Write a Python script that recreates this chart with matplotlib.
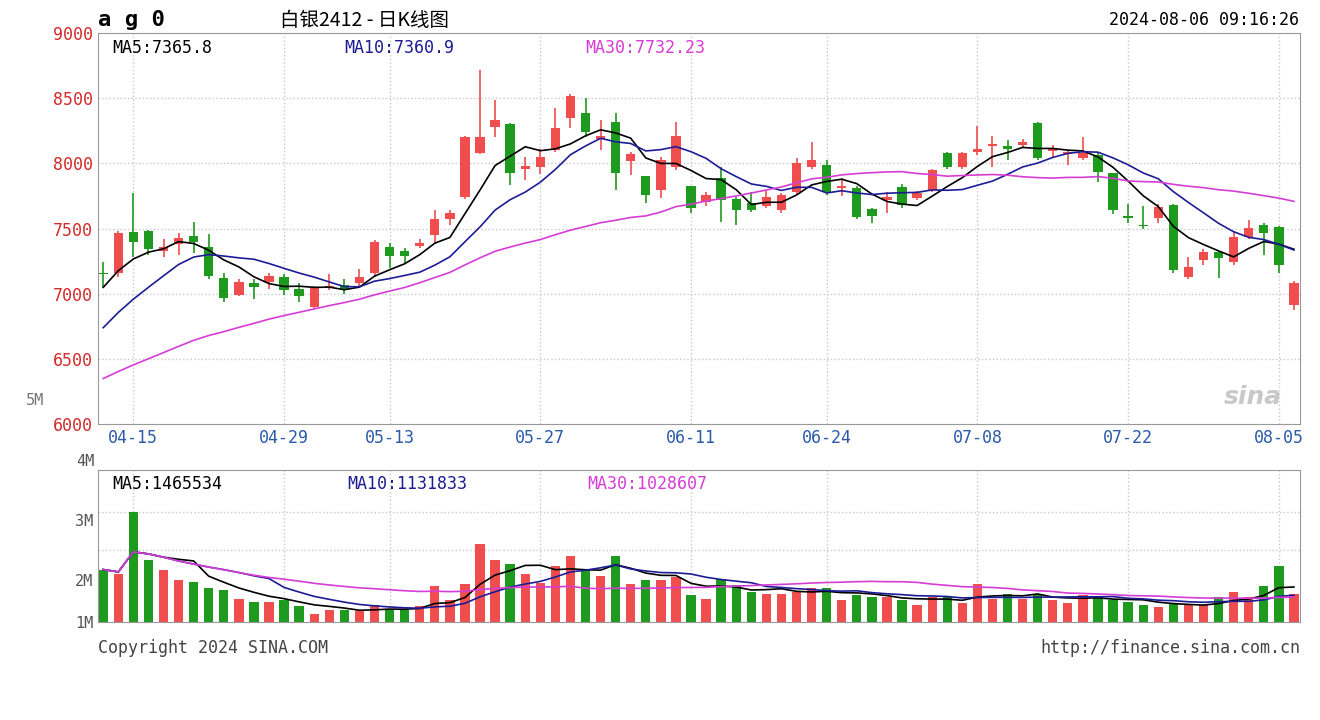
import matplotlib
matplotlib.use("Agg")
import matplotlib.pyplot as plt
import numpy as np
import pandas as pd

# daily K data, 2024-04-11 .. 2024-08-06 (80 trading days)
opens = [7160, 7160, 7474, 7480, 7330, 7380, 7440, 7360, 7120, 6990,
         7080, 7090, 7130, 7040, 6900, 7050, 7070, 7085, 7160, 7360,
         7330, 7370, 7450, 7570, 7740, 8080, 8280, 8300, 7960, 7970,
         8100, 8350, 8390, 8190, 8320, 8020, 7900, 7800, 7970, 7830,
         7705, 7890, 7730, 7700, 7675, 7640, 7780, 7975, 7990, 7810,
         7810, 7650, 7720, 7820, 7735, 7800, 8080, 7970, 8090, 8130,
         8130, 8140, 8310, 8095, 8070, 8040, 8065, 7925, 7595, 7530,
         7580, 7680, 7130, 7260, 7320, 7245, 7435, 7530, 7510, 6910]
closes = [7155, 7470, 7400, 7340, 7360, 7430, 7400, 7140, 6970, 7090,
          7050, 7140, 7030, 6980, 7045, 7060, 7040, 7130, 7400, 7290,
          7290, 7390, 7570, 7620, 8200, 8200, 8330, 7930, 7980, 8050,
          8270, 8520, 8240, 8210, 7930, 8070, 7760, 8030, 8210, 7660,
          7760, 7720, 7640, 7645, 7745, 7760, 8000, 8025, 7780, 7830,
          7590, 7600, 7740, 7680, 7775, 7950, 7970, 8080, 8110, 8150,
          8110, 8165, 8040, 8110, 8085, 8080, 7935, 7640, 7585, 7520,
          7665, 7180, 7205, 7320, 7275, 7435, 7505, 7470, 7220, 7080]
highs = [7243, 7480, 7773, 7490, 7420, 7470, 7550, 7460, 7160, 7110,
         7110, 7160, 7150, 7080, 7060, 7150, 7110, 7190, 7410, 7390,
         7350, 7420, 7642, 7640, 8210, 8717, 8487, 8310, 8050, 8110,
         8425, 8530, 8500, 8330, 8390, 8090, 7900, 8050, 8320, 7830,
         7780, 7970, 7740, 7780, 7790, 7770, 8041, 8164, 8030, 7890,
         7830, 7660, 7780, 7840, 7790, 7960, 8090, 8090, 8287, 8210,
         8180, 8190, 8320, 8140, 8100, 8203, 8080, 7930, 7690, 7670,
         7690, 7690, 7280, 7340, 7330, 7480, 7565, 7540, 7520, 7100]
lows = [7051, 7130, 7282, 7300, 7280, 7300, 7310, 7110, 6940, 6980,
        6960, 7040, 6990, 6940, 6890, 7030, 7000, 7060, 7130, 7200,
        7230, 7350, 7380, 7530, 7730, 8070, 8203, 7834, 7870, 7920,
        8090, 8270, 8203, 8100, 7796, 7910, 7696, 7734, 7950, 7619,
        7670, 7550, 7527, 7630, 7660, 7620, 7760, 7960, 7760, 7750,
        7570, 7543, 7620, 7660, 7720, 7780, 7960, 7960, 8065, 7970,
        8030, 8120, 8030, 8050, 7990, 8030, 7857, 7610, 7540, 7500,
        7540, 7160, 7110, 7220, 7120, 7220, 7420, 7300, 7160, 6875]
# estimated closes before the window, needed to start the moving averages
prior_closes = [5850, 5880, 5920, 5950, 5990, 6010, 6040, 6080, 6100, 6130,
                6170, 6200, 6230, 6270, 6300, 6330, 6370, 6390, 6420, 6460,
                6300, 6380, 6430, 6480, 6560, 6830, 6950, 7080, 7230]
# volume, millions
volumes = [2.19, 1.99, 4.60, 2.58, 2.16, 1.75, 1.65, 1.42, 1.32, 0.97,
           0.84, 0.84, 0.91, 0.65, 0.35, 0.52, 0.49, 0.46, 0.73, 0.51,
           0.49, 0.65, 1.49, 0.91, 1.57, 3.24, 2.58, 2.42, 1.99, 1.61,
           2.32, 2.75, 2.23, 1.91, 2.75, 1.57, 1.75, 1.76, 1.88, 1.11,
           0.97, 1.81, 1.53, 1.26, 1.19, 1.16, 1.26, 1.40, 1.40, 0.91,
           1.11, 1.05, 1.05, 0.91, 0.73, 1.05, 1.05, 0.80, 1.57, 0.97,
           1.16, 0.97, 1.19, 0.91, 0.80, 1.11, 1.05, 0.91, 0.84, 0.73,
           0.62, 0.76, 0.73, 0.70, 1.05, 1.26, 1.05, 1.49, 2.32, 1.19]
date_ticks = [2, 12, 19, 29, 39, 48, 58, 68, 78]
date_labels = ['04-15', '04-29', '05-13', '05-27', '06-11', '06-24', '07-08', '07-22', '08-05']
price_ticks = [6000, 6500, 7000, 7500, 8000, 8500, 9000]

RED = '#f04e4e'
GREEN = '#1e9a1e'
MA_COLORS = ['black', '#1c1c96', '#d63cd6']
MONO = 'DejaVu Sans Mono'

n = len(closes)
x = np.arange(n)
o, c, h, l = map(np.array, (opens, closes, highs, lows))
up = c >= o
colors = np.where(up, RED, GREEN)

allc = pd.Series(prior_closes + closes)
ma = [allc.rolling(w).mean().to_numpy()[-n:] for w in (5, 10, 30)]
vol = pd.Series(volumes) * 1e6
vma = [vol.rolling(w, min_periods=1).mean().to_numpy() for w in (5, 10, 30)]

fig = plt.figure(figsize=(13.2, 7.2), dpi=100)
fig.patch.set_facecolor('white')
ax = fig.add_axes([0.0742, 0.411, 0.9106, 0.543])
axv = fig.add_axes([0.0742, 0.136, 0.9106, 0.211])

for a in (ax, axv):
    a.set_xlim(-0.35, n - 0.6)
    for s in a.spines.values():
        s.set_color('#999999')
    a.set_xticks(date_ticks)
    a.grid(True, axis='x', color='#c8c8c8', linestyle=':', linewidth=1)
    a.tick_params(length=0)

# candles
ax.vlines(x, l, h, colors=colors, linewidth=1.2, zorder=2)
body_lo = np.minimum(o, c)
body_h = np.maximum(np.abs(c - o), 8)
ax.bar(x, body_h, bottom=body_lo, width=0.62, color=colors, zorder=3)
for m, col in zip(ma, MA_COLORS):
    ax.plot(x, m, color=col, linewidth=1.2, zorder=4)
ax.set_ylim(6000, 9000)
ax.set_yticks(price_ticks)
ax.set_yticklabels([str(p) for p in price_ticks], color='#d42a2a', fontsize=12, family=MONO)
for p in price_ticks[1:-1]:
    ax.axhline(p, color='#c8c8c8', linestyle=':', linewidth=1, zorder=0)
ax.set_xticklabels(date_labels, color='#2a5aa8', fontsize=12, family=MONO)
ax.text(-0.045, 0.06, '5M', transform=ax.transAxes, color='#777777', fontsize=11,
        family=MONO, ha='right', va='center')
ax.text(0.012, 0.985, 'MA5:7365.8', transform=ax.transAxes, fontsize=12, family=MONO, va='top')
ax.text(0.205, 0.985, 'MA10:7360.9', transform=ax.transAxes, fontsize=12, family=MONO,
        va='top', color=MA_COLORS[1])
ax.text(0.405, 0.985, 'MA30:7732.23', transform=ax.transAxes, fontsize=12, family=MONO,
        va='top', color=MA_COLORS[2])
ax.text(0.985, 0.07, 'sina', transform=ax.transAxes, fontsize=18, style='italic',
        weight='bold', color='#c8c8c8', ha='right', va='center')

# volume
axv.bar(x, vol, width=0.62, color=colors, zorder=2)
for m, col in zip(vma, MA_COLORS):
    axv.plot(x, m, color=col, linewidth=1.2, zorder=3)
axv.set_ylim(0, 6.33e6)
axv.set_yticks([0, 1.75e6, 4.25e6])
axv.set_yticklabels(['1M', '2M', '3M'], color='#555555', fontsize=11, family=MONO)
axv.text(-0.003, 1.06, '4M', transform=axv.transAxes, color='#555555', fontsize=11,
         family=MONO, ha='right', va='center')
for g in (3.0e6, 4.6e6):
    axv.axhline(g, color='#c8c8c8', linestyle=':', linewidth=1, zorder=0)
axv.set_xticklabels([])
axv.text(0.012, 0.97, 'MA5:1465534', transform=axv.transAxes, fontsize=12, family=MONO, va='top')
axv.text(0.207, 0.97, 'MA10:1131833', transform=axv.transAxes, fontsize=12, family=MONO,
         va='top', color=MA_COLORS[1])
axv.text(0.407, 0.97, 'MA30:1028607', transform=axv.transAxes, fontsize=12, family=MONO,
         va='top', color=MA_COLORS[2])

# header / footer
fig.text(0.074, 0.972, 'a g 0', fontsize=16, weight='bold', family=MONO, va='center')
fig.text(0.212, 0.972, '白银2412 - 日K线图', fontsize=14, va='center',
         family=['Noto Sans CJK SC', 'DejaVu Sans'])
fig.text(0.984, 0.972, '2024-08-06 09:16:26', fontsize=12, family=MONO, ha='right', va='center')
fig.text(0.074, 0.1, 'Copyright 2024 SINA.COM', fontsize=12, family=MONO, color='#444444', va='center')
fig.text(0.985, 0.1, 'http://finance.sina.com.cn', fontsize=12, family=MONO, color='#444444',
         ha='right', va='center')

fig.savefig('out.png', dpi=100)
